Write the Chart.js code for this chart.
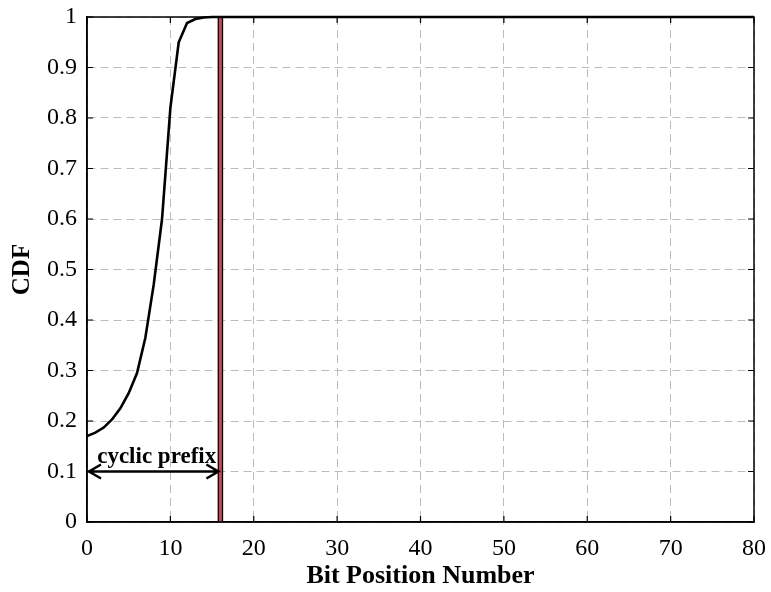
<!DOCTYPE html>
<html>
<head>
<meta charset="utf-8">
<script src="https://cdn.jsdelivr.net/npm/chart.js@4.4.0/dist/chart.umd.min.js"></script>
<style>
  html, body { margin: 0; padding: 0; background: #fff; }
  #wrap { width: 771px; height: 592px; }
</style>
</head>
<body>
<div id="wrap"><canvas id="cdfChart" width="771" height="592"></canvas></div>
<script>
// CDF of the bit position
const bitPositions = [0, 1, 2, 3, 4, 5, 6, 7, 8, 9, 10, 11, 12, 13, 14, 15, 16, 20, 30, 40, 50, 60, 70, 80];
const cdfValues = [0.170, 0.177, 0.187, 0.203, 0.225, 0.255, 0.295, 0.365, 0.47, 0.60, 0.82, 0.95, 0.988, 0.996, 0.999, 1, 1, 1, 1, 1, 1, 1, 1, 1];
const xTicks = [0, 10, 20, 30, 40, 50, 60, 70, 80];
const yTicks = [0, 0.1, 0.2, 0.3, 0.4, 0.5, 0.6, 0.7, 0.8, 0.9, 1];
const prefixLength = 16;
const arrowLevel = 0.1;
const arrowLabel = "cyclic prefix";

const serif = "'Liberation Serif', 'Times New Roman', serif";

const frameAndArrow = {
    id: "frameAndArrow",
    afterDatasetsDraw(chart) {
        const ctx = chart.ctx;
        const a = chart.chartArea;
        const xs = chart.scales.x, ys = chart.scales.y;
        ctx.save();

        // box
        ctx.strokeStyle = "#000";
        ctx.lineWidth = 1.5;
        ctx.strokeRect(a.left, a.top, a.right - a.left, a.bottom - a.top);

        // inward tick marks
        ctx.lineWidth = 1.2;
        xTicks.forEach(v => {
            const px = xs.getPixelForValue(v);
            ctx.beginPath();
            ctx.moveTo(px, a.bottom); ctx.lineTo(px, a.bottom - 6);
            ctx.moveTo(px, a.top); ctx.lineTo(px, a.top + 6);
            ctx.stroke();
        });
        yTicks.forEach(v => {
            const py = ys.getPixelForValue(v);
            ctx.beginPath();
            ctx.moveTo(a.left, py); ctx.lineTo(a.left + 6, py);
            ctx.moveTo(a.right, py); ctx.lineTo(a.right - 6, py);
            ctx.stroke();
        });

        // double-headed arrow for the cyclic prefix
        const x0 = xs.getPixelForValue(0);
        const x1 = xs.getPixelForValue(prefixLength);
        const y = ys.getPixelForValue(arrowLevel);
        ctx.lineWidth = 2.5;
        ctx.lineJoin = "miter";
        ctx.beginPath();
        ctx.moveTo(x0 + 1, y); ctx.lineTo(x1 - 1, y);
        ctx.moveTo(x0 + 14, y - 7); ctx.lineTo(x0 + 2, y); ctx.lineTo(x0 + 14, y + 7);
        ctx.moveTo(x1 - 14, y - 7); ctx.lineTo(x1 - 2, y); ctx.lineTo(x1 - 14, y + 7);
        ctx.stroke();

        ctx.fillStyle = "#000";
        ctx.font = "bold 23px " + serif;
        ctx.textAlign = "center";
        ctx.textBaseline = "alphabetic";
        ctx.fillText(arrowLabel, (x0 + x1) / 2 + 3, y - 9);
        ctx.restore();
    }
};

const ctx = document.getElementById("cdfChart").getContext("2d");
new Chart(ctx, {
    type: "line",
    data: {
        datasets: [
            {
                label: "CDF",
                data: bitPositions.map((x, i) => ({ x: x, y: cdfValues[i] })),
                borderColor: "#000",
                borderWidth: 2.6,
                pointRadius: 0,
                tension: 0,
                clip: false,
                order: 0
            },
            {
                label: "prefix edge fill",
                data: [{ x: prefixLength, y: 0 }, { x: prefixLength, y: 1 }],
                borderColor: "#c24a55",
                borderWidth: 3,
                pointRadius: 0,
                clip: false,
                order: 1
            },
            {
                label: "prefix edge",
                data: [{ x: prefixLength, y: 0 }, { x: prefixLength, y: 1 }],
                borderColor: "#000",
                borderWidth: 5.5,
                pointRadius: 0,
                clip: false,
                order: 2
            }
        ]
    },
    options: {
        responsive: false,
        animation: false,
        layout: { padding: { top: 17, right: 17, left: 0, bottom: 0 } },
        plugins: { legend: { display: false }, tooltip: { enabled: false } },
        scales: {
            x: {
                type: "linear",
                min: 0,
                max: 80,
                afterBuildTicks: s => { s.ticks = xTicks.map(v => ({ value: v })); },
                afterFit: s => { s.height = 70; s.paddingLeft = 0; s.paddingRight = 0; },
                grid: { color: "#bcbcbc", lineWidth: 1, drawTicks: false },
                border: { display: true, color: "#000", width: 1.5, dash: [8, 5] },
                ticks: { color: "#000", padding: 12, font: { family: serif, size: 24 } },
                title: {
                    display: true,
                    text: "Bit Position Number",
                    color: "#000",
                    font: { family: serif, size: 26, weight: "bold" },
                    padding: { top: 6, bottom: 0 }
                }
            },
            y: {
                type: "linear",
                min: 0,
                max: 1,
                afterBuildTicks: s => { s.ticks = yTicks.map(v => ({ value: v })); },
                afterFit: s => { s.width = 87; s.paddingTop = 0; s.paddingBottom = 0; },
                grid: { color: "#bcbcbc", lineWidth: 1, drawTicks: false },
                border: { display: true, color: "#000", width: 1.5, dash: [8, 5] },
                ticks: {
                    color: "#000",
                    padding: 10,
                    font: { family: serif, size: 24 },
                    callback: v => String(Math.round(v * 10) / 10)
                },
                title: {
                    display: true,
                    text: "CDF",
                    color: "#000",
                    font: { family: serif, size: 25, weight: "bold" },
                    padding: { top: 8, bottom: 0 }
                }
            }
        }
    },
    plugins: [frameAndArrow]
});
</script>
</body>
</html>
